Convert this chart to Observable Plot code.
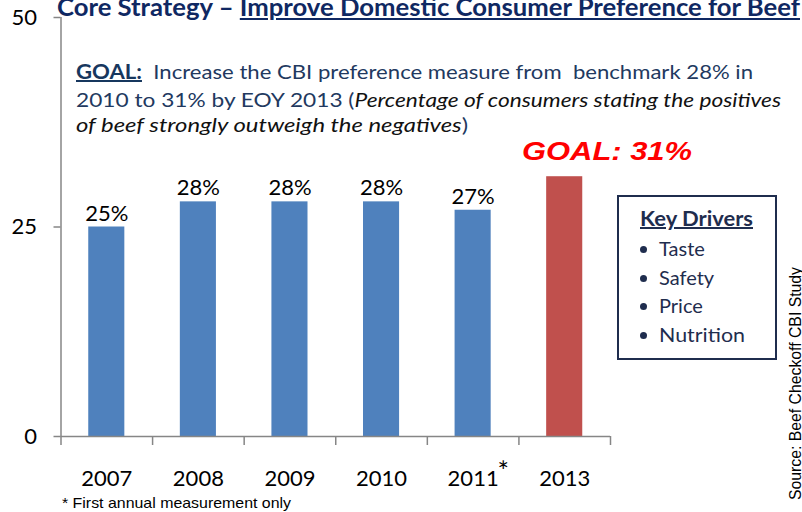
<!DOCTYPE html>
<html><head><meta charset="utf-8">
<script src="https://cdn.jsdelivr.net/npm/d3@7"></script>
<script src="https://cdn.jsdelivr.net/npm/@observablehq/plot@0.6"></script>
<style>
body{margin:0;background:#fff;}
#wrap{position:relative;width:802px;height:512px;overflow:hidden;background:#fff;}
#wrap svg{position:absolute;left:0;top:0;}
.t{position:absolute;white-space:pre;left:0;top:0;transform-origin:0 0;}
.cal{font-family:Lato,"Open Sans",sans-serif;}
.ari{font-family:"Liberation Sans",Arial,sans-serif;}
#box{position:absolute;left:617px;top:195px;width:156px;height:161px;border:2px solid #1f2d4e;}
.dot{position:absolute;width:7px;height:7px;border-radius:50%;background:#1f2d4e;}
</style></head><body><div id="wrap"></div>
<script>
// ---- data ----
const years = ["2007","2008","2009","2010","2011","2013"];
const values = [25,28,28,28,27,31];
const valueLabels = ["25%","28%","28%","28%","27%",""];
const kinds = ["actual","actual","actual","actual","actual","goal"];
const yTicks = [0,25,50];
const footnoteMarkIndex = [4];
const drivers = ["Taste","Safety","Price","Nutrition"];
const titleText = ["Core Strategy \u2013 ", "Improve Domestic Consumer Preference for Beef"];
const goalLines = [
  ["GOAL:", "  Increase the CBI preference measure from  benchmark 28% in"],
  ["2010 to 31% by EOY 2013 (", "Percentage of consumers stating the positives"],
  ["of beef strongly outweigh the negatives", ")"]
];
const goalCallout = "GOAL: 31%";
const footnote = "* First annual measurement only";
const source = "Source: Beef Checkoff CBI Study";

const data = years.map((y,i)=>({i, year:y, value:values[i], label:valueLabels[i], kind:kinds[i]}));
const boundaries = d3.range(0, years.length + 1);

const chart = Plot.plot({
  width:802, height:512,
  marginLeft:60.5, marginRight:192, marginTop:17, marginBottom:76,
  x:{type:"linear", domain:[0, years.length], label:null},
  y:{domain:[0,50], label:null},
  color:{domain:["actual","goal"], range:["#4f81bd","#c0504d"]},
  style:{fontFamily:"Lato, sans-serif", fontSize:"22px", color:"#000", background:"transparent", overflow:"visible"},
  marks:[
    Plot.rectY(data,{x1:"i", x2:d=>d.i+1, y:"value", fill:"kind", insetLeft:27.75, insetRight:27.75}),
    Plot.axisX(boundaries,{tickSize:9, tickFormat:()=>"", stroke:"#868686", strokeWidth:1.5}),
    Plot.axisY(yTicks,{tickSize:7, tickPadding:17, stroke:"#868686", strokeWidth:1.5, fill:"#000", fontSize:22}),
    Plot.ruleY([0],{stroke:"#868686", strokeWidth:1.5}),
    Plot.ruleX([0],{stroke:"#868686", strokeWidth:1.5}),
    Plot.text(data,{x:d=>d.i+0.5, y:"value", text:"label", lineAnchor:"top", dy:-22, fontSize:22, fill:"#000"}),
    Plot.text(data,{x:d=>d.i+0.5, y:0, text:"year", lineAnchor:"top", dy:34, fontSize:22, fill:"#000"}),
    Plot.text(footnoteMarkIndex,{x:d=>d+0.5, y:0, text:()=>"*", lineAnchor:"top", dy:25, dx:30, fontSize:27, fill:"#000"})
  ]
});
const wrap = document.getElementById("wrap");
wrap.appendChild(chart);

// ---- annotations ----
function mk(html, cls, style){
  const el=document.createElement("div"); el.className="t "+cls; el.innerHTML=html;
  if(style) el.style.cssText+=style; wrap.appendChild(el); return el;
}
function place(el, x, baseline, width){
  const m=document.createElement("span"); m.style.cssText="display:inline-block;width:0;height:0;vertical-align:baseline";
  el.appendChild(m);
  const wt=wrap.getBoundingClientRect().top;
  const b=m.getBoundingClientRect().top-wt;
  el.style.left=x+"px"; el.style.top=(baseline-b)+"px";
  if(width){const w=el.getBoundingClientRect().width; el.style.transform=`scaleX(${width/w})`;}
}
function build(){
  const title=mk(`${titleText[0]}<span style="text-decoration:underline">${titleText[1]}</span>`,"cal","font-weight:700;font-size:24px;color:#0f2862;");
  place(title,57,15.5,743);

  const gc="color:#22395f;font-size:20px;";
  const l1=mk(`<b style="text-decoration:underline;color:#17375e">${goalLines[0][0]}</b>${goalLines[0][1]}`,"cal",gc);
  place(l1,76,79,677);
  const l2=mk(`${goalLines[1][0]}<i style="color:#111">${goalLines[1][1]}</i>`,"cal",gc);
  place(l2,76,107,705);
  const l3=mk(`<i style="color:#111">${goalLines[2][0]}</i>${goalLines[2][1]}`,"cal",gc);
  place(l3,76,132,392);

  const gl=mk(goalCallout,"ari","font-weight:700;font-style:italic;font-size:25px;color:#ff0000;");
  place(gl,522,160,170);

  const box=document.createElement("div"); box.id="box"; wrap.appendChild(box);
  const kd=mk("Key Drivers","cal","font-weight:700;font-size:20px;color:#1f2d4e;text-decoration:underline;");
  place(kd,640,226,113);
  const bl=[256,285,313,342];
  drivers.forEach((d,i)=>{
    const dot=document.createElement("div"); dot.className="dot";
    dot.style.left="640px"; dot.style.top=(bl[i]-10.5)+"px"; wrap.appendChild(dot);
    const t=mk(d,"cal","font-size:20px;color:#1f2d4e;"); place(t,659,bl[i], i===3?86:null);
  });

  const fn=mk(footnote,"ari","font-size:15px;color:#000;");
  place(fn,61.5,508,229);

  const src=mk(source,"ari","font-size:16px;color:#000;");
  const m=document.createElement("span"); m.style.cssText="display:inline-block;width:0;height:0;vertical-align:baseline"; src.appendChild(m);
  const wt=wrap.getBoundingClientRect().top;
  const b=m.getBoundingClientRect().top-wt;
  const w=src.getBoundingClientRect().width;
  src.style.left=(801-b)+"px"; src.style.top="500px";
  src.style.transform=`rotate(-90deg) scaleX(${233/w})`;
}
(document.fonts && document.fonts.ready ? document.fonts.ready : Promise.resolve()).then(build);
</script></body></html>
